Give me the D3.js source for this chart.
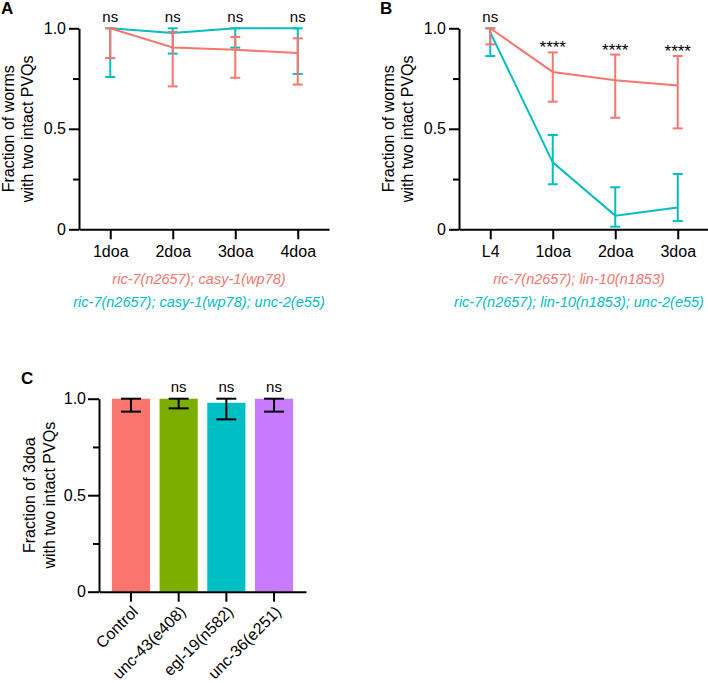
<!DOCTYPE html>
<html><head><meta charset="utf-8">
<script src="https://cdn.jsdelivr.net/npm/d3@7"></script>
<style>
body{margin:0;background:#fff;}
svg{font-family:"Liberation Sans",Arial,sans-serif;}
</style></head>
<body><svg id="c" width="708" height="683"></svg>
<script>
// ---- data ----
const catsA = ["1doa","2doa","3doa","4doa"];
const aRed = [1.0, 0.905, 0.893, 0.877];
const aRedLo = [0.852, 0.711, 0.754, 0.72];
const aRedHi = [1.0, 0.982, 0.957, 0.95];
const aCyan = [1.0, 0.977, 1.0, 1.0];
const aCyanLo = [0.758, 0.874, 0.904, 0.773];
const aCyanHi = [1.0, 1.0, 1.0, 1.0];
const sigA = ["ns","ns","ns","ns"];
const legA = ["ric-7(n2657); casy-1(wp78)", "ric-7(n2657); casy-1(wp78); unc-2(e55)"];

const catsB = ["L4","1doa","2doa","3doa"];
const bRed = [1.0, 0.783, 0.741, 0.715];
const bRedLo = [0.92, 0.635, 0.555, 0.502];
const bRedHi = [1.0, 0.88, 0.869, 0.862];
const bCyan = [0.98, 0.333, 0.068, 0.109];
const bCyanLo = [0.862, 0.224, 0.013, 0.041];
const bCyanHi = [1.0, 0.469, 0.209, 0.275];
const sigB = ["ns","****","****","****"];
const legB = ["ric-7(n2657); lin-10(n1853)", "ric-7(n2657); lin-10(n1853); unc-2(e55)"];

const catsC = ["Control","unc-43(e408)","egl-19(n582)","unc-36(e251)"];
const cVal = [1.0, 1.0, 0.979, 1.0];
const cLo = [0.933, 0.95, 0.893, 0.933];
const cHi = [1.0, 1.0, 1.0, 1.0];
const sigC = ["","ns","ns","ns"];
const cColors = ["#F8766D","#7CAE00","#00BFC4","#C77CFF"];

const yTicks = [0, 0.5, 1.0];
const yMinor = [0.25, 0.75];
const RED = "#F8766D", CYAN = "#00BFC4";

const svg = d3.select("#c");
const fmt = d => d === 0 ? "0" : d3.format(".1f")(d);

function yAxis(g, y, tsize, pad) {
  g.call(d3.axisLeft(y).tickValues(yTicks).tickFormat(fmt).tickSize(tsize).tickSizeOuter(0).tickPadding(pad));
  g.selectAll("text").attr("font-size", 16).attr("fill", "#000");
  g.call(gg => gg.select(".domain").attr("stroke-width", 2));
  g.selectAll(".tick line").attr("stroke-width", 2);
  g.append("g").call(d3.axisLeft(y).tickValues(yMinor).tickFormat("").tickSize(6).tickSizeOuter(0))
    .call(gg => gg.select(".domain").remove())
    .selectAll(".tick line").attr("stroke-width", 2);
}

function yLabel(x1, x2, ymid, l1, l2) {
  svg.append("text").attr("transform", `translate(${x1},${ymid}) rotate(-90)`).attr("text-anchor","middle").attr("font-size",16).text(l1);
  svg.append("text").attr("transform", `translate(${x2},${ymid}) rotate(-90)`).attr("text-anchor","middle").attr("font-size",16).text(l2);
}

function linePanel(opts) {
  const {x0,x1,yT,yB,cats,series,sig,leg,letter,lx} = opts;
  const x = d3.scalePoint().domain(cats).range([x0,x1]).padding(0.5);
  const y = d3.scaleLinear().domain([0,1]).range([yB,yT]);
  const g = svg.append("g");
  const xa = g.append("g").attr("transform",`translate(0,${yB})`)
    .call(d3.axisBottom(x).tickSize(10).tickSizeOuter(0).tickPadding(6));
  xa.select(".domain").attr("stroke-width",2);
  xa.selectAll(".tick line").attr("stroke-width",2);
  xa.selectAll("text").attr("font-size",16).attr("fill","#000");
  yAxis(g.append("g").attr("transform",`translate(${x0},0)`), y, 10, 3);
  series.forEach(s => {
    const ln = d3.line().x((d,i)=>x(cats[i])).y(d=>y(d));
    g.append("path").attr("d", ln(s.v)).attr("fill","none").attr("stroke",s.c).attr("stroke-width",2);
    cats.forEach((c,i) => {
      const cx = x(c);
      g.append("line").attr("x1",cx).attr("x2",cx).attr("y1",y(s.lo[i])).attr("y2",y(s.hi[i])).attr("stroke",s.c).attr("stroke-width",2);
      [s.lo[i], s.hi[i]].forEach(v => {
        g.append("line").attr("x1",cx-5).attr("x2",cx+5).attr("y1",y(v)).attr("y2",y(v)).attr("stroke",s.c).attr("stroke-width",2);
      });
    });
  });
  cats.forEach((c,i) => {
    const top = Math.max(...series.map(s=>s.hi[i]));
    const isNs = sig[i] === "ns";
    const yy = isNs ? 22 : y(top) + 1;
    g.append("text").attr("x",x(c)).attr("y",yy).attr("text-anchor","middle")
      .attr("font-size", isNs ? 15 : 17).text(sig[i]);
  });
  const cx = (x0+x1)/2 - 5;
  g.append("text").attr("x",cx).attr("y",284).attr("text-anchor","middle").attr("font-size",14.5)
    .attr("font-style","italic").attr("fill",RED).text(leg[0]);
  g.append("text").attr("x",cx).attr("y",307).attr("text-anchor","middle").attr("font-size",14.5)
    .attr("font-style","italic").attr("fill",CYAN).text(leg[1]);
  svg.append("text").attr("x",lx).attr("y",14).attr("font-size",17).attr("font-weight","bold").text(letter);
  yLabel(x0-65, x0-46, (yT+yB)/2, "Fraction of worms", "with two intact PVQs");
}

linePanel({x0:79,x1:329,yT:28.3,yB:229.3,cats:catsA,
  series:[{v:aCyan,lo:aCyanLo,hi:aCyanHi,c:CYAN},{v:aRed,lo:aRedLo,hi:aRedHi,c:RED}],
  sig:sigA, leg:legA, letter:"A", lx:1});
linePanel({x0:459,x1:709,yT:28.3,yB:229.3,cats:catsB,
  series:[{v:bCyan,lo:bCyanLo,hi:bCyanHi,c:CYAN},{v:bRed,lo:bRedLo,hi:bRedHi,c:RED}],
  sig:sigB, leg:legB, letter:"B", lx:380});

// ---- panel C ----
(function(){
  const x0=99, x1=306, yT=398.7, yB=591.7;
  const x = d3.scaleBand().domain(catsC).range([x0,x1]).paddingInner(0.2).paddingOuter(0.27);
  const y = d3.scaleLinear().domain([0,1]).range([yB,yT]);
  const g = svg.append("g");
  g.selectAll("rect.bar").data(catsC).join("rect").attr("class","bar")
    .attr("x",d=>x(d)).attr("width",x.bandwidth())
    .attr("y",(d,i)=>y(cVal[i])).attr("height",(d,i)=>yB-y(cVal[i]))
    .attr("fill",(d,i)=>cColors[i]);
  catsC.forEach((c,i)=>{
    const cx = x(c)+x.bandwidth()/2;
    g.append("line").attr("x1",cx).attr("x2",cx).attr("y1",y(cLo[i])).attr("y2",y(cHi[i])).attr("stroke","#000").attr("stroke-width",2);
    [cLo[i],cHi[i]].forEach(v=>{
      g.append("line").attr("x1",cx-10).attr("x2",cx+10).attr("y1",y(v)).attr("y2",y(v)).attr("stroke","#000").attr("stroke-width",2);
    });
    if (sigC[i]) g.append("text").attr("x",cx).attr("y",392).attr("text-anchor","middle").attr("font-size",15).text(sigC[i]);
  });
  const xa = g.append("g").attr("transform",`translate(0,${yB})`)
    .call(d3.axisBottom(x).tickSize(10).tickSizeOuter(0));
  xa.select(".domain").attr("stroke-width",2);
  xa.selectAll(".tick line").attr("stroke-width",2);
  xa.selectAll("text").attr("font-size",16).attr("fill","#000")
    .attr("text-anchor","end").attr("dy",0).attr("y",0)
    .attr("transform","translate(8,21) rotate(-45)");
  yAxis(g.append("g").attr("transform",`translate(${x0},0)`), y, 11, 2);
  svg.append("text").attr("x",21).attr("y",384).attr("font-size",17).attr("font-weight","bold").text("C");
  yLabel(35, 55, (yT+yB)/2, "Fraction of 3doa", "with two intact PVQs");
})();
</script></body></html>
